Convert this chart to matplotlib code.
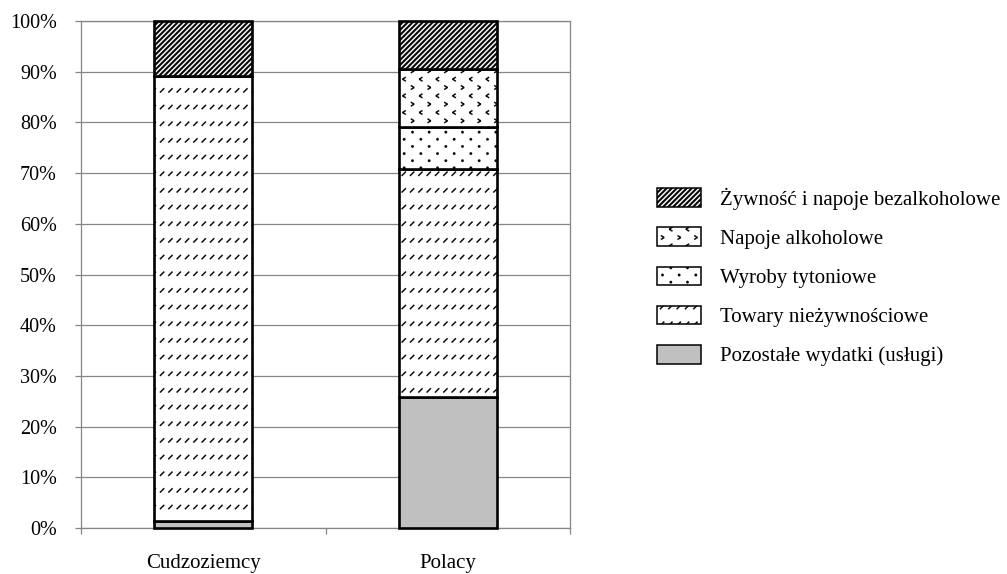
import warnings
import numpy as np
import matplotlib
matplotlib.use('Agg')
import matplotlib.pyplot as plt
import matplotlib.hatch as mhatch
from matplotlib.path import Path

warnings.filterwarnings('ignore')

# ---------------- data ----------------
categories = ['Cudzoziemcy', 'Polacy']
pozostale = [1.4, 25.8]
towary = [87.7, 45.1]
tytoniowe = [0.0, 8.1]
alkoholowe = [0.0, 11.5]
zywnosc = [10.9, 9.5]
series_labels = ['Pozostałe wydatki (usługi)', 'Towary nieżywnościowe',
                 'Wyroby tytoniowe', 'Napoje alkoholowe',
                 'Żywność i napoje bezalkoholowe']
yticks = [0, 10, 20, 30, 40, 50, 60, 70, 80, 90, 100]
ytick_labels = [f'{v}%' for v in yticks]


# ---------------- custom hatch patterns ----------------
def _seg(p0, p1, t):
    p0 = np.asarray(p0, float)
    p1 = np.asarray(p1, float)
    d = p1 - p0
    n = np.array([-d[1], d[0]]) / np.hypot(d[0], d[1]) * t / 2
    return [p0 + n, p1 + n, p1 - n, p0 - n]


def _dot(c, r, k=8):
    ang = np.linspace(0, 2 * np.pi, k, endpoint=False)
    return [np.array([c[0] + r * np.cos(a), c[1] + r * np.sin(a)]) for a in ang]


class _PolyHatch(mhatch.HatchPatternBase):
    key = '?'

    def __init__(self, hatch, density):
        self.polys = self.build() if (hatch and self.key in hatch) else []
        self.num_vertices = sum(len(p) + 1 for p in self.polys)

    def build(self):
        return []

    def set_vertices_and_codes(self, vertices, codes):
        i = 0
        for p in self.polys:
            n = len(p)
            vertices[i:i + n] = np.array(p)
            vertices[i + n] = p[0]
            codes[i] = Path.MOVETO
            codes[i + 1:i + n] = Path.LINETO
            codes[i + n] = Path.CLOSEPOLY
            i += n + 1


class StripeHatch(_PolyHatch):
    key = 'z'

    def build(self):
        n = 20
        return [_seg((i / n - 0.05, -0.05), (i / n + 1.05, 1.05), 0.019)
                for i in range(-n - 1, n + 2)]


class DashHatch(_PolyHatch):
    key = 'w'

    def build(self):
        rows, cols = 6, 12
        polys = []
        for r in range(rows):
            y = (r + 0.45) / rows
            for c in range(cols):
                x = (c + 0.2) / cols
                polys.append(_seg((x, y), (x + 0.042, y + 0.042), 0.013))
        return polys


class DotHatch(_PolyHatch):
    key = 't'

    def build(self):
        rows, cols = 14, 6
        polys = []
        for r in range(rows):
            y = (r + 0.5) / rows
            off = 0.5 if r % 2 else 0.0
            for c in range(cols):
                x = (c + 0.25 + off) / cols
                polys.append(_dot((x, y), 0.014))
        return polys


class ChevronHatch(_PolyHatch):
    key = 'a'

    def build(self):
        rows, cols = 12, 6
        w, h, t = 0.016, 0.02, 0.013
        polys = []
        for r in range(rows):
            y = (r + 0.5) / rows
            off = 0.5 if r % 2 else 0.0
            sgn = 1 if r % 2 else -1
            for c in range(cols):
                x = (c + 0.25 + off) / cols
                tip = (x + sgn * w, y)
                polys.append(_seg((x - sgn * w, y + h), tip, t))
                polys.append(_seg((x - sgn * w, y - h), tip, t))
        return polys


mhatch._hatch_types.extend([StripeHatch, DashHatch, DotHatch, ChevronHatch])
mhatch._validate_hatch_pattern = lambda h: None

# ---------------- figure ----------------
plt.rcParams['font.family'] = ['Liberation Serif', 'DejaVu Serif']
plt.rcParams['hatch.linewidth'] = 0.1

GRAY = '#868686'
W, H = 1007, 574
fig = plt.figure(figsize=(W / 100, H / 100), dpi=100)
ax = fig.add_axes([81 / W, 1 - 528 / H, (570 - 81) / W, (528 - 21) / H])

x = np.arange(len(categories))
bottom = np.zeros(len(categories))
series = [pozostale, towary, tytoniowe, alkoholowe, zywnosc]
faces = ['#c0c0c0', 'white', 'white', 'white', 'white']
hatches = [None, 'w', 't', 'a', 'z']
containers = []
for vals, fc, hp, lab in zip(series, faces, hatches, series_labels):
    vals = np.asarray(vals, float)
    bc = ax.bar(x, vals, 0.40, bottom=bottom, color=fc, edgecolor='black',
                linewidth=1.9, hatch=hp, label=lab, zorder=3)
    for p in bc:
        p.set_clip_on(False)
    containers.append(bc)
    bottom = bottom + vals

ax.set_xlim(-0.5, 1.5)
ax.set_ylim(0, 100)
ax.set_yticks(yticks)
ax.set_yticklabels(ytick_labels)
ax.yaxis.grid(True, color=GRAY, linewidth=0.9)
ax.set_axisbelow(True)
ax.set_xticks(x)
ax.set_xticklabels(categories)
ax.set_xticks([-0.5, 0.5, 1.5], minor=True)
ax.tick_params(axis='x', which='major', length=0, pad=19, labelsize=15)
ax.tick_params(axis='x', which='minor', length=4.3, color=GRAY, width=0.9,
               direction='out')
ax.tick_params(axis='y', length=4.3, color=GRAY, width=0.9, pad=13,
               labelsize=14.5)
for s in ax.spines.values():
    s.set_color(GRAY)
    s.set_linewidth(0.9)

handles = [c for c in containers][::-1]
labels = series_labels[::-1]
leg = fig.legend(handles, labels, loc='center left',
                 bbox_to_anchor=(657 / W, 1 - 277 / H), frameon=False,
                 fontsize=15, borderpad=0, borderaxespad=0,
                 handlelength=2.1, handleheight=1.0, handletextpad=0.9,
                 labelspacing=0.85)
for hnd in leg.legend_handles:
    hnd.set_linewidth(1.1)

fig.savefig('out.png', dpi=100)
